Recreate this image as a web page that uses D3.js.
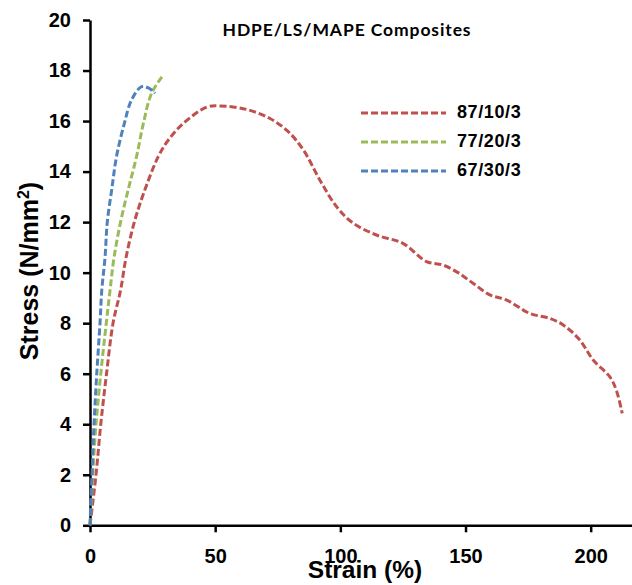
<!DOCTYPE html>
<html lang="en">
<head>
    <meta charset="UTF-8">
    <title>HDPE/LS/MAPE Composites</title>
    <script src="https://d3js.org/d3.v7.min.js"></script>
    <style>
        body {
            margin: 0;
            background: #fff;
            font-family: "Liberation Sans", Arial, sans-serif;
        }
        .axis path, .axis line {
            stroke: #000;
            stroke-width: 2.5;
        }
        .axis text {
            font-family: "Liberation Sans", Arial, sans-serif;
            font-size: 20px;
            font-weight: bold;
            fill: #000;
        }
        .curve {
            fill: none;
            stroke-width: 3;
            stroke-dasharray: 7,3;
        }
    </style>
</head>
<body>
<div id="chart"></div>
<script>
    // Series: strain (%) and stress (N/mm2)
    var names = ["87/10/3", "77/20/3", "67/30/3"];
    var colors = ["#C0504D", "#9BBB59", "#4F81BD"];

    var strain87 = [0, 2.4, 4.3, 6.6, 9.2, 12.2, 14.4, 17.7, 22, 27.3, 31.3, 37.2, 46.6, 52, 63, 71.9, 79, 85.2, 91.8, 98.5, 105.1, 114.4, 125, 134.4, 141, 147, 153, 159.7, 166.3, 175.6, 183.6, 189, 195.6, 201, 207.6, 210.2, 212.6];
    var stress87 = [0, 2, 4, 6, 8, 9.3, 10.6, 12, 13.3, 14.6, 15.25, 15.9, 16.55, 16.6, 16.45, 16.1, 15.6, 14.86, 13.67, 12.61, 11.96, 11.49, 11.16, 10.44, 10.3, 10.0, 9.58, 9.12, 8.92, 8.39, 8.19, 7.93, 7.34, 6.54, 5.88, 5.36, 4.43];

    var strain77 = [0, 1.1, 2.4, 4.3, 6.5, 8, 9.6, 12.2, 15.3, 18.6, 21.3, 24.6, 29.3];
    var stress77 = [0, 2, 4, 6, 8, 9.3, 10.6, 12, 13.3, 14.6, 15.9, 17.1, 17.83];

    var strain67 = [0, 0.8, 1.6, 2.7, 4, 4.7, 6, 6.9, 8.7, 10.6, 13.7, 16.6, 20.6, 23.5, 26];
    var stress67 = [0, 2, 4, 6, 8, 9.3, 10.6, 12, 13.3, 14.6, 15.9, 16.84, 17.36, 17.3, 17.1];

    var xTicks = [0, 50, 100, 150, 200];
    var yTicks = [0, 2, 4, 6, 8, 10, 12, 14, 16, 18, 20];

    var series = [
        {name: names[0], color: colors[0], x: strain87, y: stress87},
        {name: names[1], color: colors[1], x: strain77, y: stress77},
        {name: names[2], color: colors[2], x: strain67, y: stress67}
    ];

    var W = 632, H = 585;

    var svg = d3.select("#chart").append("svg")
        .attr("width", W)
        .attr("height", H);

    var x = d3.scaleLinear().domain([0, 216.5]).range([90, W]);
    var y = d3.scaleLinear().domain([0, 20]).range([525.3, 20]);

    // Y axis
    svg.append("g")
        .attr("class", "axis")
        .attr("transform", "translate(" + x(0) + ",0)")
        .call(d3.axisLeft(y).tickValues(yTicks).tickSizeInner(7).tickSizeOuter(0).tickPadding(12));

    // X axis
    svg.append("g")
        .attr("class", "axis")
        .attr("transform", "translate(0," + y(0) + ")")
        .call(d3.axisBottom(x).tickValues(xTicks).tickSizeInner(7).tickSizeOuter(0).tickPadding(17));

    // Curves
    var line = d3.line()
        .x(function(d) { return x(d[0]); })
        .y(function(d) { return y(d[1]); })
        .curve(d3.curveCatmullRom.alpha(0.5));

    series.forEach(function(s) {
        svg.append("path")
            .datum(d3.zip(s.x, s.y))
            .attr("class", "curve")
            .attr("stroke", s.color)
            .attr("d", line);
    });

    // Legend
    var legend = svg.append("g").attr("transform", "translate(361,113)");
    series.forEach(function(s, i) {
        var g = legend.append("g").attr("transform", "translate(0," + (i * 29) + ")");
        g.append("line")
            .attr("class", "curve")
            .attr("x1", 0).attr("x2", 85)
            .attr("stroke", s.color);
        g.append("text")
            .attr("x", 96)
            .attr("y", 5)
            .style("font-size", "18px")
            .style("font-weight", "bold")
            .style("letter-spacing", "0.6px")
            .text(s.name);
    });

    // Title
    svg.append("text")
        .attr("x", 347)
        .attr("y", 36)
        .attr("text-anchor", "middle")
        .style("font-family", "Lato, 'Open Sans', sans-serif")
        .style("font-size", "17.5px")
        .style("font-weight", "bold")
        .style("letter-spacing", "0.9px")
        .text("HDPE/LS/MAPE Composites");

    // Axis titles
    svg.append("text")
        .attr("x", 365)
        .attr("y", 578)
        .attr("text-anchor", "middle")
        .style("font-size", "24.5px")
        .style("font-weight", "bold")
        .text("Strain (%)");

    var yt = svg.append("text")
        .attr("transform", "translate(38,271) rotate(-90)")
        .attr("text-anchor", "middle")
        .style("font-size", "25px")
        .style("font-weight", "bold");
    yt.append("tspan").text("Stress (N/mm");
    yt.append("tspan").attr("dy", -9).style("font-size", "16px").text("2");
    yt.append("tspan").attr("dy", 9).text(")");
</script>
</body>
</html>
